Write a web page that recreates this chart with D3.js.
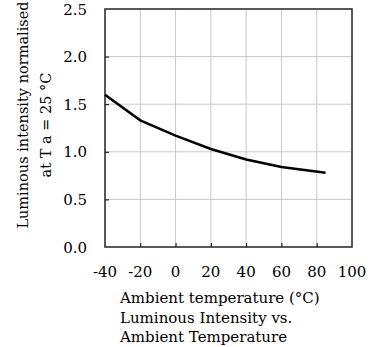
<!DOCTYPE html>
<html>
<head>
<meta charset="utf-8">
<script src="https://cdn.jsdelivr.net/npm/d3@7"></script>
<style>
  body { margin: 0; background: #fff; }
  text { font-family: "DejaVu Serif", serif; fill: #000; }
</style>
</head>
<body>
<div id="container"></div>
<script>
// chart data
let temps = [-40, -20, 0, 20, 40, 60, 85];
let intensity = [1.60, 1.33, 1.17, 1.03, 0.92, 0.84, 0.78];
let xTicks = [-40, -20, 0, 20, 40, 60, 80, 100];
let yTicks = [0, 0.5, 1.0, 1.5, 2.0, 2.5];
let yLabelLines = ["Luminous intensity normalised", "at T a = 25 °C"];
let titleLines = ["Ambient temperature (°C)", "Luminous Intensity vs.", "Ambient Temperature"];

let w = 383;
let h = 347;
let pLeft = 105, pRight = 352, pTop = 9, pBottom = 247;

let viz = d3.select("#container")
  .append("svg")
    .attr("width", w)
    .attr("height", h)
;

let xScale = d3.scaleLinear().domain([-40, 100]).range([pLeft, pRight]);
let yScale = d3.scaleLinear().domain([0, 2.5]).range([pBottom, pTop]);

// grid
viz.append("g").selectAll("line").data(xTicks.slice(1, -1)).enter()
  .append("line")
    .attr("x1", d => xScale(d)).attr("x2", d => xScale(d))
    .attr("y1", pTop).attr("y2", pBottom)
    .style("stroke", "#c8c8c8").style("stroke-width", 1);
viz.append("g").selectAll("line").data(yTicks.slice(1, -1)).enter()
  .append("line")
    .attr("x1", pLeft).attr("x2", pRight)
    .attr("y1", d => yScale(d)).attr("y2", d => yScale(d))
    .style("stroke", "#c8c8c8").style("stroke-width", 1);

// axes with inner ticks
viz.append("g")
  .attr("transform", "translate(0," + pBottom + ")")
  .call(d3.axisTop(xScale).tickValues(xTicks.slice(1, -1)).tickSize(4).tickFormat(""));
viz.append("g")
  .attr("transform", "translate(" + pLeft + ",0)")
  .call(d3.axisRight(yScale).tickValues(yTicks.slice(1, -1)).tickSize(4).tickFormat(""));
viz.selectAll(".domain").remove();
viz.selectAll(".tick line").style("stroke", "#000").style("stroke-width", 1);

// frame
viz.append("rect")
  .attr("x", pLeft).attr("y", pTop)
  .attr("width", pRight - pLeft).attr("height", pBottom - pTop)
  .style("fill", "none").style("stroke", "#222").style("stroke-width", 1.5);

// tick labels
viz.append("g").selectAll("text").data(xTicks).enter()
  .append("text")
    .attr("x", d => xScale(d))
    .attr("y", 277)
    .attr("text-anchor", "middle")
    .style("font-size", "15px")
    .text(d => d);
viz.append("g").selectAll("text").data(yTicks).enter()
  .append("text")
    .attr("x", 87)
    .attr("y", d => yScale(d) + 5.5)
    .attr("text-anchor", "end")
    .style("font-size", "15px")
    .text(d => d.toFixed(1));

// data line
let line = d3.line()
  .x((d, i) => xScale(temps[i]))
  .y(d => yScale(d));
viz.append("path")
  .datum(intensity)
  .attr("d", line)
  .style("fill", "none")
  .style("stroke", "#000")
  .style("stroke-width", 2.5);

// y label
viz.append("text")
  .attr("transform", "translate(28,115) rotate(-90)")
  .attr("text-anchor", "middle")
  .style("font-size", "14.5px")
  .text(yLabelLines[0]);
viz.append("text")
  .attr("transform", "translate(51,125) rotate(-90)")
  .attr("text-anchor", "middle")
  .style("font-size", "14.5px")
  .text(yLabelLines[1]);

// caption
viz.append("g").selectAll("text").data(titleLines).enter()
  .append("text")
    .attr("x", 120)
    .attr("y", (d, i) => 303 + i * 19.5)
    .style("font-size", "15px")
    .text(d => d);
</script>
</body>
</html>
